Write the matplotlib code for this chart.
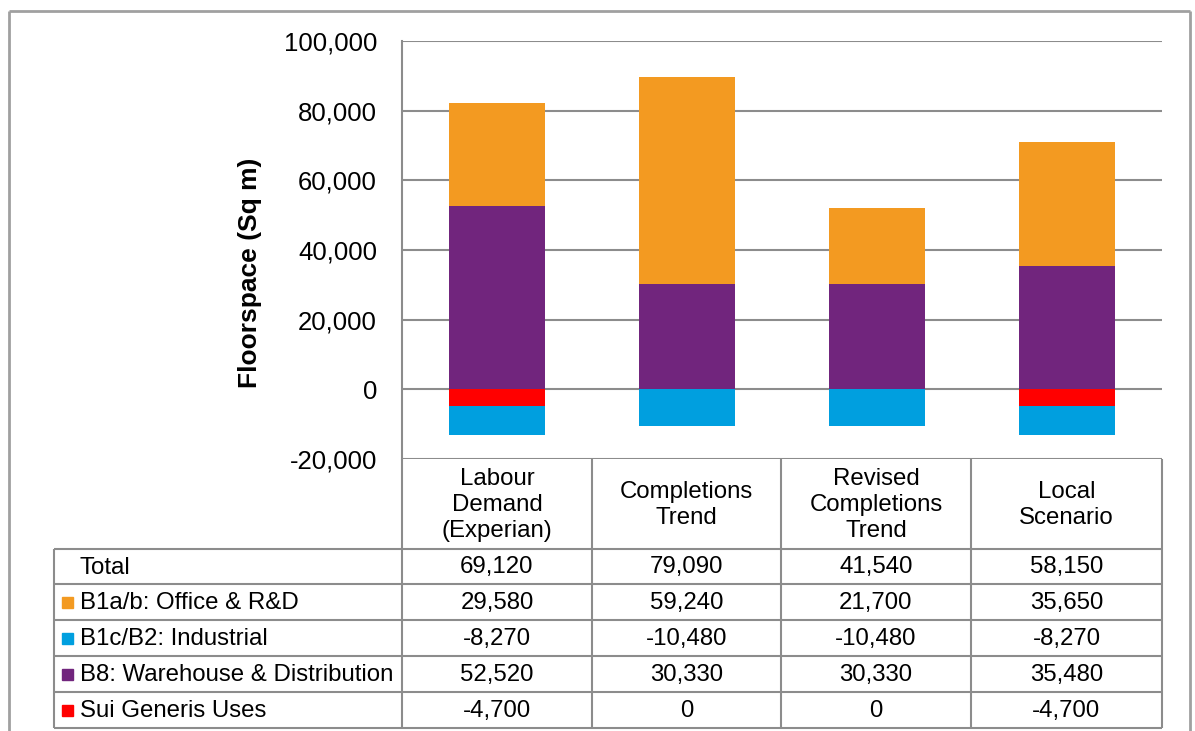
import matplotlib
matplotlib.use("Agg")
import matplotlib.pyplot as plt
from matplotlib.patches import Rectangle
from matplotlib.ticker import FuncFormatter

plt.rcParams["font.family"] = ["Liberation Sans", "DejaVu Sans"]

categories = ["Labour\nDemand\n(Experian)", "Completions\nTrend",
              "Revised\nCompletions\nTrend", "Local\nScenario"]
totals = [69120, 79090, 41540, 58150]
office = [29580, 59240, 21700, 35650]
industrial = [-8270, -10480, -10480, -8270]
warehouse = [52520, 30330, 30330, 35480]
sui_generis = [-4700, 0, 0, -4700]

series_names = ["B1a/b: Office & R&D", "B1c/B2: Industrial",
                "B8: Warehouse & Distribution", "Sui Generis Uses"]
colors = ["#F39A21", "#009FDF", "#71257D", "#FF0000"]
grey = "#8C8C8C"

W, H = 1195, 731
fig = plt.figure(figsize=(W / 100, H / 100), dpi=100)

# plot area in pixels
px_l, px_r, px_t, px_b = 402, 1162, 41, 459
ax = fig.add_axes([px_l / W, 1 - px_b / H, (px_r - px_l) / W, (px_b - px_t) / H])

x = list(range(len(categories)))
bw = 0.51
ax.bar(x, warehouse, bw, color=colors[2], zorder=3)
ax.bar(x, office, bw, bottom=warehouse, color=colors[0], zorder=3)
ax.bar(x, sui_generis, bw, color=colors[3], zorder=3)
ax.bar(x, industrial, bw, bottom=sui_generis, color=colors[1], zorder=3)

ax.set_xlim(-0.5, len(categories) - 0.5)
ax.set_ylim(-20000, 100000)
ax.set_yticks(range(-20000, 100001, 20000))
ax.yaxis.set_major_formatter(FuncFormatter(lambda v, p: f"{int(v):,}"))
ax.set_xticks([])
ax.tick_params(axis="y", length=0, pad=18, labelsize=18.5)
ax.yaxis.grid(True, color=grey, lw=1.5, zorder=0)
for s in ["top", "right", "bottom"]:
    ax.spines[s].set_visible(False)
ax.spines["left"].set_color(grey)
ax.spines["left"].set_linewidth(1.5)

fig.text(250 / W, 1 - 273 / H, "Floorspace (Sq m)", rotation=90,
         ha="center", va="center", fontsize=19, fontweight="bold")

# overlay in pixel coordinates for table and frame
ov = fig.add_axes([0, 0, 1, 1], facecolor="none")
ov.set_xlim(0, W)
ov.set_ylim(H, 0)
ov.axis("off")

def line(x0, y0, x1, y1, c=grey, lw=1.5):
    ov.plot([x0, x1], [y0, y1], color=c, lw=lw, solid_capstyle="butt")

# outer frame
line(9, 11, 1190, 11, c="#A0A0A0", lw=2)
line(9, 11, 9, H, c="#A0A0A0", lw=2)
line(1190, 11, 1190, H, c="#A0A0A0", lw=2)

col_edges = [402, 592, 781, 971, 1162]
head_top, head_bot = 459, 549
row_edges = [549, 584, 620, 656, 692, 728]
lab_l = 54

# header and grid of the table
for cx in col_edges:
    line(cx, head_top, cx, row_edges[-1])
line(lab_l, head_bot, col_edges[-1], head_bot)
for ry in row_edges[1:]:
    line(lab_l, ry, col_edges[-1], ry)
line(lab_l, head_bot, lab_l, row_edges[-1])

fs = 17.3
for i, cat in enumerate(categories):
    cx = (col_edges[i] + col_edges[i + 1]) / 2
    ov.text(cx, (head_top + head_bot) / 2 + 1, cat, ha="center", va="center",
            fontsize=fs, linespacing=1.22)

rows = [("Total", None, totals),
        (series_names[0], colors[0], office),
        (series_names[1], colors[1], industrial),
        (series_names[2], colors[2], warehouse),
        (series_names[3], colors[3], sui_generis)]
for r, (name, c, vals) in enumerate(rows):
    cy = (row_edges[r] + row_edges[r + 1]) / 2
    if c is not None:
        ov.add_patch(Rectangle((62, cy - 5), 11, 11, color=c))
    ov.text(80, cy + 1, name, ha="left", va="center", fontsize=fs)
    for i, v in enumerate(vals):
        cx = (col_edges[i] + col_edges[i + 1]) / 2
        ov.text(cx, cy + 1, f"{v:,}", ha="center", va="center", fontsize=fs)

fig.savefig("out.png", dpi=100)
